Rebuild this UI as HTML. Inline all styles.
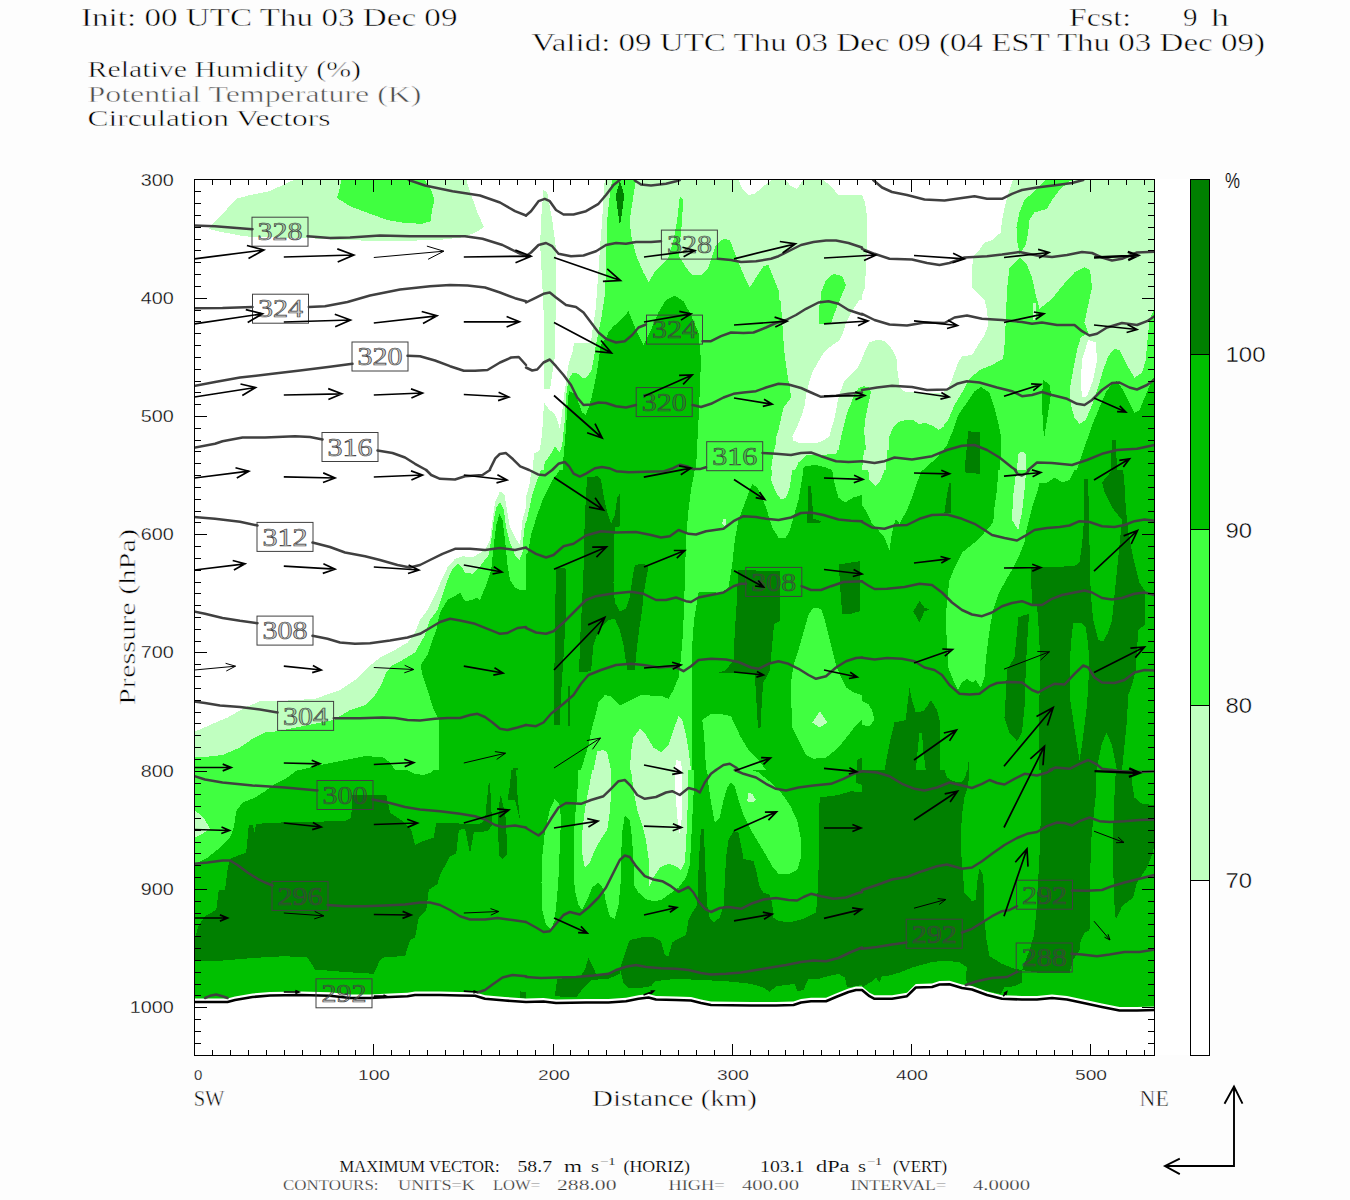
<!DOCTYPE html>
<html><head><meta charset="utf-8"><title>Cross section</title>
<style>html,body{margin:0;padding:0;background:#fdfdfd;}svg{display:block;}text{font-family:"Liberation Serif",serif;fill:#000;stroke:#fdfdfd;stroke-width:0.5px;paint-order:fill stroke;}.s{font-family:"Liberation Sans",sans-serif;stroke:none;}</style></head><body>
<svg width="1350" height="1200" viewBox="0 0 1350 1200">
<rect x="0" y="0" width="1350" height="1200" fill="#fdfdfd"/>
<rect x="194" y="179" width="1016" height="876" fill="#ffffff"/>
<defs><clipPath id="plot"><rect x="194" y="179.5" width="960.5" height="875.5"/></clipPath></defs>
<g clip-path="url(#plot)" shape-rendering="crispEdges">
<clipPath id="c0"><rect x="190" y="170" width="336" height="300"/></clipPath>
<g clip-path="url(#c0)">
<rect x="190" y="170" width="336" height="300" fill="#ffffff"/>
<polygon fill="#c0ffc0" points="295,179.5 285,183.8 270,191.2 250,195 236.2,198.8 225,211.2 215,221.2 208.8,228.8 217.5,231.2 240,235.5 252.5,237 307.5,238 330,239.5 370,240.8 410,240.8 442.5,239.5 465,237 477.5,231.2 483.8,227 477.5,212.5 471.2,195 466.2,179.5"/>
<polygon fill="#40ff40" points="341.2,179.5 340,187.5 337,198 350,206.2 370,213.8 387.5,220 405,223 422.5,223.8 430.5,221.2 432,210 434.5,199.5 431.2,190 426.2,182.5 425,179.5"/>
</g>
<clipPath id="c1"><rect x="190" y="470" width="336" height="300"/></clipPath>
<g clip-path="url(#c1)">
<rect x="190" y="470" width="336" height="300" fill="#ffffff"/>
<polygon fill="#c0ffc0" points="190,733.8 210,725 227.5,717.5 245,707.5 260,701.2 277.5,701.2 315,698.8 340,690 355,680 367.5,667.5 380,657.5 395,650 407.5,642.5 415,632.5 420,620 427.5,610 437.5,590 442.5,577.5 447.5,567.5 455,558.8 462.5,556.2 472.5,557.5 485,550 490,540 492.5,520 495,502.5 500,491.2 504.5,495 507.5,512.5 510,527.5 515,537.5 520,545 522.5,520 526,507.5 526,770 190,770"/>
<polygon fill="#40ff40" points="190,757.5 205,757 222.5,755 240,747.5 252.5,738.8 265,732.5 277.5,731.2 333.8,720 350,710 365,705 375,695 381.2,685 386.2,672.5 392.5,665 402.5,660 415,652.5 425,635 430,620 437.5,610 442.5,595 447.5,580 452.5,568.8 457.5,563.8 461.2,566.2 465,572.5 472.5,573.8 480,566.2 488.8,555 491.2,540 493.8,520 496.2,507.5 500,502.5 503.8,510 506.2,527.5 510,542.5 515,555 519.5,560 522.5,552.5 523.8,532.5 526,520 526,770 190,770"/>
<polygon fill="#00c000" points="300,770 320,765 345,760 365,756.2 382.5,757 390,762.5 395,770"/>
<polygon fill="#00c000" points="438.8,770 438.8,720 433.8,710 427.5,690 422.5,675 420.5,665 427.5,655 432.5,640 436.2,630 440,612.5 447.5,600 455,596.2 460,592.5 465,601.2 472.5,600 476.2,597.5 480,600 486.2,585 491.2,570 493.8,545 496.2,525 499.5,513.8 502.5,520 505,540 507.5,565 510,580 515,587.5 520,590 526,590 526,770"/>
<polygon fill="#008000" points="512.5,767.5 512.5,770 517.5,770 517.5,767.5"/>
</g>
<clipPath id="c2"><rect x="190" y="770" width="336" height="300"/></clipPath>
<g clip-path="url(#c2)">
<rect x="190" y="770" width="336" height="300" fill="#00c000"/>
<polygon fill="#40ff40" points="190,770 297.5,770 287.5,777.5 275,783.8 265,791.2 255,797.5 242.5,802.5 236.2,811.2 233.8,827.5 230,837.5 220,847.5 207.5,857.5 197.5,862.5 190,865"/>
<polygon fill="#40ff40" points="407.5,770 415,773.8 423.8,775 431.2,772.5 433.8,770"/>
<polygon fill="#c0ffc0" points="190,807.5 197.5,812.5 205,820 210,828.8 202.5,833.8 194.5,837.5 190,838.8"/>
<polygon fill="#008000" points="248.8,825 246.2,852.5 230,858.8 227.5,870 225,890 218.8,890 216.2,910 205,916.2 198.8,925 194.5,940 190,942.5 190,961.2 222.5,960.5 252.5,958 285,956.2 307.5,957.5 315,969.5 345,972 373.8,973.8 380,960 385,957 405,956.2 410,940 415,937.5 418.8,917.5 426.2,910 428.8,890 437.5,883.8 440,875 450,856.2 456.2,853.8 458.8,830 465,828.8 470,853.8 473.8,832.5 487.5,831.2 492.5,825 485,820 480,823.8 436.2,823.2 433.8,837.5 422.5,841.2 415,845 411.2,830 402.5,821.2 390,812.5 386.2,794.5 352.5,795 351.2,817.5 345,821.2 290,822 256.2,823.8 254.5,832.5 253,825"/>
<polygon fill="#008000" points="488.8,782.5 486.2,807.5 485,820 492.5,825 491.2,807.5 490,782.5"/>
<polygon fill="#008000" points="500,796.2 498,820 498.8,855 502.5,858.8 507,855 506.2,820 502.5,802.5 501.2,796.2"/>
<polygon fill="#008000" points="511.2,770 510,785 507.5,800 515,800 520,820 517.5,795 516.2,770"/>
<polygon fill="#008000" points="520,991.2 519.5,998 526,998.8 526,992.5"/>
</g>
<clipPath id="c3"><rect x="526" y="170" width="336" height="300"/></clipPath>
<g clip-path="url(#c3)">
<rect x="526" y="170" width="336" height="300" fill="#ffffff"/>
<polygon fill="#c0ffc0" points="543.5,190 541,220 540.2,245 542.2,282.5 544,320 544,388.8 550.2,388.8 552.8,370 554.8,357.5 555.5,320 556,282.5 555.5,245 552.2,220 547.2,192.5"/>
<polygon fill="#c0ffc0" points="604.8,179.5 603.5,195 602.2,220 600.2,245 598.5,270 596.8,295 595.5,310 594,320 592.2,332.5 591,343 574,343 572.8,351.2 569,362.5 567.2,372.5 566,382.5 564.8,390 563.5,400 561.5,417.5 559.8,428.8 556,416.2 552.8,412.5 548.5,408.8 544,402.5 542.2,432.5 539.8,450 534,453.8 532.8,470 862,470 862,179.5"/>
<polygon fill="#ffffff" points="738.5,179.5 742.2,188.8 748.5,195 754.8,193.8 763.5,186.2 772.2,179.5"/>
<polygon fill="#ffffff" points="784.8,179.5 791,186.2 797.2,188.8 803.5,179.5"/>
<polygon fill="#ffffff" points="822.2,179.5 829.8,185 838.5,195 851,195.5 862,194.5 862,179.5"/>
<polygon fill="#40ff40" points="612.2,179.5 609.8,195 607.2,220 606.5,245 606,270 604.8,295 601,320 599,330 597.2,338.8 595.2,348.8 594,357.5 591.5,370 588.5,375 584,378.8 576,372.5 572.8,372.5 569,378.8 567.2,387.5 566,397.5 564.8,420 563.5,432.5 562.2,445 559.8,452.5 554.8,446.2 551,453.8 544.8,462.5 543.5,470 771,470 773.5,452.5 778.5,432.5 783.5,410 789.8,395 787.2,377.5 783.5,357.5 781,320 778.5,290 773.5,277.5 768.5,265 763.5,266.2 756,277.5 749.8,287.5 746,280 738.5,262.5 729.8,240 723.5,238.8 716,245 708.5,267.5 701,275 692.2,275 686,267.5 679,256.2 680.5,237.5 682.2,220 683,200 679.8,196.2 677.2,220 673.5,240 668.5,257.5 656,270 648.5,282.5 643.5,272.5 636,255 631,235 629.8,220 633.5,195 636,179.5"/>
<polygon fill="#40ff40" points="833.5,273.8 826,280 821,292.5 819.8,310 818.5,322.5 824.8,323.8 833.5,315 839.8,300 846,285 842.2,276.2"/>
<polygon fill="#40ff40" points="862,387.5 856,393.8 849.8,407.5 844.8,425 840.5,442.5 836,453.8 821,455 806,455.5 798.5,462.5 794.8,470 862,470"/>
<polygon fill="#00c000" points="562.8,470 563.5,457.5 565.2,438.8 566.5,420 567.8,401.2 569,391.2 574.8,393.8 578.5,402.5 582.2,412.5 586,415 590.2,402.5 592.2,395 594.8,382.5 597.2,370 599,357.5 601,345 606,337.5 608.5,332.5 613.5,326.2 621,320 628.5,311.2 636,330 643.5,345 651,330 658.5,312.5 666,300 674.8,295.8 683.5,301.2 691,315 698.5,332.5 701,360 699.8,390 698.5,420 697.2,445 696,470"/>
<polygon fill="#00c000" points="802.2,470 804.8,466.2 816,465 826,467.5 832.2,470"/>
<polygon fill="#008000" points="620,180.8 615.8,195 618,212.5 620,225.8 622,212.5 624.2,195"/>
</g>
<clipPath id="c4"><rect x="526" y="470" width="336" height="300"/></clipPath>
<g clip-path="url(#c4)">
<rect x="526" y="470" width="336" height="300" fill="#00c000"/>
<polygon fill="#40ff40" points="526,470 559.8,470 551,482.5 543.5,497.5 537.2,515 531,535 528,552.5 526,555"/>
<polygon fill="#c0ffc0" points="526,470 541,470 537.2,480 532.2,495 528.5,512.5 526,522.5"/>
<polygon fill="#ffffff" points="526,470 531.5,470 529.8,482.5 526,497.5"/>
<polygon fill="#40ff40" points="694.8,470 691,490 688.5,510 686.5,532.5 685.5,557.5 684.8,582.5 684,607.5 683,632.5 681,657.5 678.5,677.5 673.5,690 668.5,698.8 662.2,696.2 641,695 631,700 619.8,705.5 611,696.2 604.8,695 598.5,702.5 594.8,717.5 591.5,730 588.5,745 584.8,757.5 581,770 692.2,770 692.2,720 691.5,670 692.2,645 694,620 698.5,592.5 711,592 721,593 728.5,587.5 732.2,565 734.8,540 738.5,520 746,500 752.2,483.8 757.2,487.5 762.2,497.5 766,507.5 772.2,527.5 778.5,537.5 786,537.5 789.8,530 793.5,517.5 798.5,500 801,485 803.5,470"/>
<polygon fill="#c0ffc0" points="772.2,470 771,480 776,492.5 781,499.5 786,497.5 789.8,487.5 792.2,470"/>
<polygon fill="#c0ffc0" points="723,518.8 722.2,523.8 724.8,526.2 726.5,522.5 725.5,518.8"/>
<polygon fill="#40ff40" points="832.2,470 834.8,485 838.5,497.5 844.8,502.5 853.5,497.5 862,495 862,470"/>
<polygon fill="#40ff40" points="813.5,607.5 808.5,615 803.5,632.5 798.5,650 793.5,665 791,682.5 791.5,707.5 792.2,727.5 798.5,740 806,755 813.5,758.8 826,757.5 838.5,747.5 848.5,735 856,725 862,720 862,695 853.5,692.5 846,687.5 841,677.5 836,665 832.2,650 828.5,635 824.8,620 821,608.8"/>
<polygon fill="#c0ffc0" points="819.8,711.2 812.2,722.5 819.8,727.5 827.2,722.5"/>
<polygon fill="#40ff40" points="702.2,720 711,713.8 723.5,714.5 731,716.2 734.8,725 741,737.5 748.5,750 758.5,760 766,770 706,770 704.8,745 703.5,730"/>
<polygon fill="#c0ffc0" points="633.5,737.5 639.8,728.8 646,735 653.5,747.5 661,752.5 668.5,745 673.5,730 678.5,716.2 682.2,720 686,735 688.5,750 691,770 629.8,770 631,752.5"/>
<polygon fill="#ffffff" points="676,760 675,770 682,770 681,761.2"/>
<polygon fill="#c0ffc0" points="597.2,751.2 593.5,770 611,770 607.2,752.5 603.5,750"/>
<polygon fill="#008000" points="587.2,477.5 586,495 584.8,520 584,545 583.5,570 582.2,600 580.5,632.5 579,672.5 591,671.2 593.5,645 598.5,630 608.5,620 614.8,618.8 619.8,630 623.5,645 627.2,670 634.8,670 637.2,645 639.8,625 642.2,610 643.5,595 646,580 648.5,566.2 643.5,563.8 634.8,565 632.2,580 629.8,597.5 626,608.8 619.8,611.2 614.8,602.5 613.5,582.5 614,545 614.8,527.5 619.8,526.2 619.8,493.8 617.2,497.5 614.8,515 611,523.8 607.2,512.5 603.5,495 601,480 597.2,476.2"/>
<polygon fill="#008000" points="556,567.5 555.5,595 554.8,645 554,695 554,725 559.8,725 561,695 563.5,657.5 565.5,620 566,570 563.5,567.5"/>
<polygon fill="#008000" points="568,686.2 568.5,726.2 570,726.2 570,686.2"/>
<polygon fill="#008000" points="738,570 737.2,595 734.8,632.5 733.5,660 726,670 718.5,672.5 733.5,673 754.8,673.8 756,695 758,727.5 760.5,727.5 762.2,695 763.5,682.5 769.8,670 772.2,645 774,623.8 779.8,621.2 779.8,571.2"/>
<polygon fill="#008000" points="808.5,486.2 807.2,522.5 819.8,523 821,521.2 813.5,518.8 811,486.2"/>
<polygon fill="#008000" points="839,564.5 839.8,582.5 842.2,613.8 851,613.8 859.8,611.2 859.8,561.2 851,562.5"/>
<polygon fill="#008000" points="857.2,760 857.2,770 862,770 862,757.5"/>
</g>
<clipPath id="c5"><rect x="526" y="770" width="336" height="300"/></clipPath>
<g clip-path="url(#c5)">
<rect x="526" y="770" width="336" height="300" fill="#00c000"/>
<polygon fill="#40ff40" points="554.8,798.8 549.8,810 544.8,832.5 542.2,857.5 541.5,882.5 542.2,910 546,925 551,930 554.8,920 557.2,895 559,870 559.8,845 561,820 559.8,805"/>
<polygon fill="#40ff40" points="578.5,770 577.2,795 574.8,820 573.5,845 573.5,870 574.8,890 578.5,905 582.2,910 587.2,900 592.2,887.5 598.5,882.5 603.5,888.8 606,902.5 609.8,916.2 614.8,918.8 618.5,905 620.5,885 621,857.5 622.2,832.5 624.8,815 629.8,820 632.2,840 633.5,865 634,885 638.5,892.5 644.8,898.8 653.5,901.2 661,900 669.8,893.8 678.5,887.5 686,877.5 689.8,865 691,845 692.2,820 693.5,795 694,770"/>
<polygon fill="#40ff40" points="707.2,770 708.5,785 711,802.5 714.8,822.5 719.8,817.5 723.5,800 727.2,787.5 731,782.5 734.8,786.2 738.5,800 743.5,815 751,830 758.5,842.5 766,855 772.2,866.2 778.5,873.8 788.5,874.5 797.2,870 801,857.5 801,840 797.2,820 789.8,805 781,792.5 771,782.5 758.5,772.5 751,770"/>
<polygon fill="#c0ffc0" points="748.5,792.5 747.2,801.2 752.2,802.5 756,800 752.2,793.8"/>
<polygon fill="#c0ffc0" points="592.2,770 588.5,790 584.8,810 582.2,832.5 581.5,850 584.8,867.5 589.8,862.5 594.8,850 601,838.8 607.2,830 609.8,812.5 611,795 611,770"/>
<polygon fill="#c0ffc0" points="631,770 633.5,790 637.2,810 642.2,825 646,840 648.5,857.5 649,887.5 653.5,877.5 659.8,867.5 668.5,863.8 676,866.2 681,870 684.8,862.5 686,845 687.2,820 688,795 688.5,770"/>
<polygon fill="#ffffff" points="675,770 675.5,795 677.2,815 679,836.2 681.5,820 682.5,795 682,770"/>
<polygon fill="#008000" points="701,828.8 699.8,845 698.5,870 698,890 697.2,905 692.2,912.5 688.5,920 686,935 676,940 672.2,942.5 668.5,956.2 664.8,955 661,941.2 653.5,937.5 643.5,937 629.8,940 626,950 622.2,962.5 619.8,968.8 623.5,982.5 628.5,988 643.5,987.5 651,986.2 654.8,981.2 676,978.8 701,980 726,981.2 751,983.8 763.5,987.5 769.8,992 776,986.2 786,985 794.8,983.8 797.2,991.2 803.5,990 808.5,978.8 818.5,978.8 828.5,976.2 838.5,973.8 844.8,977.5 847.2,987.5 862,985 862,792.5 851,791.2 838.5,795 819.8,797.5 818.5,820 818.5,870 817.2,900 816,912.5 803.5,918.8 791,922 778.5,921.2 773.5,917.5 772.2,903.8 769.8,895 763.5,892.5 759.8,887.5 756,870 753.5,861.2 743.5,858.8 741,845 738.5,832.5 733.5,831.2 728.5,840 726,857.5 724.8,882.5 723.5,906.2 719.8,917.5 713.5,922.5 709.8,918.8 707.2,905 706,882.5 704.8,857.5 704,828.8"/>
<polygon fill="#008000" points="856,770 856,782.5 862,785 862,770"/>
<polygon fill="#008000" points="588.5,957.5 584.8,970 579.8,977.5 557.2,978.8 556,987.5 554.8,996.2 576,997.5 583.5,987.5 591,980 608.5,978.8 619.8,973.8 619.8,968.8 608.5,973.8 596,973.8 592.2,965"/>
</g>
<clipPath id="c6"><rect x="862" y="170" width="336" height="300"/></clipPath>
<g clip-path="url(#c6)">
<rect x="862" y="170" width="336" height="300" fill="#ffffff"/>
<polygon fill="#c0ffc0" points="862,195 865,202.5 867.5,220 867,245 865.8,270 865,287.5 862,295"/>
<polygon fill="#c0ffc0" points="1013.2,179.5 1009.5,190 1005.8,202.5 1002,220 1000.8,232.5 992,240 984.5,242.5 979.5,250 973.2,256.2 972,270 972.5,287.5 984.5,300 987,310 988.2,325 984.5,335 978.2,345 972,355 962,356.2 958.2,362.5 954.5,372.5 950.8,382.5 947,390 937,391.8 912,390.5 902,386.2 899,377.5 897,365 893.2,350 887,342.5 878.2,340 869.5,342.5 862,355 862,470 1157,470 1157,179.5"/>
<polygon fill="#40ff40" points="1045.8,179.5 1034.5,191.2 1024.5,200 1019.5,212.5 1016.5,227.5 1017.5,242.5 1019.5,253.8 1025.8,245 1028.2,232.5 1029.5,220 1034.5,212.5 1047,208.8 1052,200 1059.5,190 1069.5,181.2 1077,179.5"/>
<polygon fill="#40ff40" points="1019.5,257.5 1009.5,267.5 1007,290 1005.8,320 1004.5,345 1003.2,358.8 992,365 979.5,370 969.5,378.8 962,392.5 954.5,405 948.2,420 939.5,430 933.2,425 924.5,422.5 912,421.2 899.5,422.5 892,430 888.2,440 887,455 885.8,470 1157,470 1157,310 1153.2,311.2 1149.5,320 1147,345 1145.8,360 1142,372.5 1134.5,377.5 1127,365 1119.5,350 1114.5,348.8 1108.2,356.2 1103.2,370 1102,355 1098.2,340 1093.2,333.8 1088.2,332.5 1084.5,322.5 1088.2,305 1092,287.5 1090,270 1084.5,267 1074.5,272.5 1062,286.2 1052,298.8 1039.5,308.8 1035.8,295 1032,277.5 1027,265"/>
<polygon fill="#c0ffc0" points="1088.2,332.5 1080.8,337.5 1077,350 1073.2,370 1069.5,390 1070.8,405 1074.5,417.5 1079.5,423.8 1085.8,420 1092,405 1098.2,387.5 1103.2,370 1102,355 1098.2,340 1093.2,333.8"/>
<polygon fill="#ffffff" points="1088.2,340 1082,360 1080.8,382.5 1082,397.5 1087,396.2 1093.2,380 1097,360 1095.8,342.5"/>
<polygon fill="#c0ffc0" points="1018.2,453.8 1017,470 1025.8,470 1025.8,453.8 1022,451.2"/>
<polygon fill="#c0ffc0" points="1033.2,302.5 1032.5,320 1035.8,320 1035.8,302.5"/>
<polygon fill="#40ff40" points="862,390 867,392.5 869.5,395 865.8,420 864.5,445 862,470"/>
<polygon fill="#00c000" points="923.2,470 937,457.5 947,445 953.2,430 958.2,415 967,402.5 974.5,391.2 980.8,387 989.5,392.5 994.5,407.5 998.2,422.5 1000.8,435 1000.8,455 999.5,470"/>
<polygon fill="#00c000" points="1043.2,380 1042,395 1042.5,415 1044,438.8 1047,420 1050.8,395 1050,385"/>
<polygon fill="#00c000" points="1077,470 1082,455 1087,440 1093.2,422.5 1099.5,407.5 1105.8,392.5 1112,383.8 1117,381.2 1123.2,390 1128.2,400 1134.5,412.5 1139.5,410 1145.8,395 1152,380 1157,372.5 1157,470"/>
<polygon fill="#008000" points="968.2,431.2 967,445 964.5,470 979.5,470 980,432.5"/>
<polygon fill="#008000" points="1112,440 1110.8,470 1117,470 1115.8,440"/>
</g>
<clipPath id="c7"><rect x="862" y="470" width="336" height="300"/></clipPath>
<g clip-path="url(#c7)">
<rect x="862" y="470" width="336" height="300" fill="#00c000"/>
<polygon fill="#40ff40" points="862,470 922,470 917,482.5 912,497.5 907,510 899.5,523.8 895.8,518.8 892,532.5 889.5,550 884.5,537.5 878.2,530 872,523.8 867,512.5 862,505"/>
<polygon fill="#c0ffc0" points="868.2,470 869.5,480 875.8,486.2 880.8,480 884.5,470"/>
<polygon fill="#40ff40" points="998.2,470 997,490 994.5,507.5 993.2,522.5 984.5,532.5 974.5,542.5 962,552.5 955.8,565 949.5,580 947,600 945.8,620 947,645 948.2,667.5 953.2,680 958.2,690 962,682.5 967,678.8 972,682.5 975.8,680 980.8,687.5 984.5,677.5 985.8,660 988.2,640 990.8,622.5 993.2,610 998.2,595 1005.8,580 1012,570 1019.5,555 1024.5,542.5 1027,527.5 1032,507.5 1037,492.5 1039.5,482.5 1047,482.5 1054.5,477.5 1062,482.5 1069.5,480 1074.5,470"/>
<polygon fill="#c0ffc0" points="1015.8,475 1013.2,495 1012,520 1018.2,530 1022,512.5 1024.5,490 1025.8,475 1022,473.8"/>
<polygon fill="#40ff40" points="862,701.2 868.2,703.8 872,710 874.5,720 869.5,726.2 862,725"/>
<polygon fill="#008000" points="1030.8,567.5 1074.5,566.2 1079.5,562.5 1082,545 1084,520 1084.5,478.8 1088.2,478.8 1102,482.5 1108.2,475 1112,470 1123.2,470 1124.5,485 1125.8,507.5 1128.2,532.5 1133.2,557.5 1139.5,582.5 1144.5,590 1144.5,625 1138.2,630 1137,650 1135.8,670 1132,685 1128.2,695 1127,720 1124.5,745 1122,770 1039,770 1039.5,695 1039.5,645 1038.2,620 1037,606.2 1032,605"/>
<polygon fill="#00c000" points="1088.2,478.8 1089,520 1089.5,545 1090,570 1090.8,595 1093.2,620 1098.2,640 1103.2,641.2 1108.2,632.5 1112,620 1114.5,595 1117,570 1119.5,545 1122,520 1112,507.5 1104.5,492.5 1102,482.5"/>
<polygon fill="#00c000" points="1073.2,622.5 1070.8,645 1069.5,670 1069.5,695 1073.2,720 1077,745 1079.5,760 1082,745 1084.5,725 1087,705 1088.2,685 1089.5,665 1088.2,645 1085.8,627.5 1080.8,622.5"/>
<polygon fill="#00c000" points="1106.5,732.5 1101.5,745 1096.5,770 1117,770 1112,745"/>
<polygon fill="#008000" points="1018.2,617.5 1017,632.5 1014.5,657.5 1007,670 1005.8,695 1004.5,717.5 1009.5,732.5 1017,741.2 1022,732.5 1024.5,707.5 1025.8,670 1027,645 1028.2,625 1029.5,613.8 1024.5,615"/>
<polygon fill="#008000" points="949.5,482.5 947,495 944.5,512.5 950.8,512.5 950.8,482.5"/>
<polygon fill="#008000" points="919.5,601.2 913.2,611.2 919.5,622.5 924.5,611.2 929.5,610 924.5,607.5"/>
<polygon fill="#008000" points="964.5,470 965.8,472.5 979.5,473.8 979.5,470"/>
<polygon fill="#008000" points="909.5,687.5 907,707.5 905.8,720 894.5,722.5 892,732.5 888.2,750 884.5,770 915.8,770 918.2,745 919.5,732.5 922,732.5 923.2,750 925.8,770 939.5,770 940,745 939.5,720 937,710 930.8,700 928.2,705 923.2,711.2 915.8,712.5 912,700"/>
<polygon fill="#008000" points="968.2,757.5 967.8,770 969,770"/>
</g>
<clipPath id="c8"><rect x="862" y="770" width="336" height="300"/></clipPath>
<g clip-path="url(#c8)">
<rect x="862" y="770" width="336" height="300" fill="#00c000"/>
<polygon fill="#008000" points="862,770 944.5,770 947,777.5 953.2,781.2 962,782.5 965.8,775 967,770 969.5,770 968.2,785 964.5,797.5 962,815 960.8,835 961.5,857.5 963.2,877.5 964.5,892.5 972,901.2 975.8,900 977,882.5 979.5,868.8 983.2,875 984,895 984.5,920 986.5,940 989.5,956.2 1002,963.8 1014.5,968.8 1022,970 1022,982.5 1014.5,986.2 1004.5,987.5 1000.8,993.8 982,990 967,985 965.8,975 967,967.5 959.5,962.5 947,960.5 932,962 912,967.5 899.5,972.5 887,976.2 882,975.5 879.5,982.5 875.8,977.5 872,981.2 862,987.5"/>
<polygon fill="#008000" points="1040.8,770 1041,807.5 1040,845 1038.2,880 1036.5,910 1034,935 1029.5,950 1022,970 1037,972.5 1069.5,973 1073.2,960 1079.5,950 1080.8,940 1084.5,932.5 1089.5,930 1090,895 1090.8,845 1093.2,820 1095.8,795 1095.8,770"/>
<polygon fill="#008000" points="1115.8,770 1114.5,795 1113.2,832.5 1113.2,870 1114.5,905 1115.8,920 1122,906.2 1133.2,897.5 1137,882.5 1147,867.5 1152,855 1154.5,845 1154.5,805 1142,803.8 1134.5,797.5 1132,782.5 1130.8,770"/>
</g>
<clipPath id="c9"><rect x="776" y="300" width="168" height="150"/></clipPath>
<g clip-path="url(#c9)">
<rect x="776" y="300" width="168" height="150" fill="#c0ffc0"/>
<polygon fill="#ffffff" points="859.1,300 856,305 851,312.5 846,322.5 843.5,331.2 839.8,340 831,346.2 824.8,351.2 818.5,361.2 812.9,371.2 809.8,380 807.9,387.5 806,395 804.8,405 802.2,413.8 797.9,425 792.2,436.2 793.5,440.6 799.8,443.1 818.5,442.5 826,438.8 829.8,435.6 831.6,427.5 834.8,417.5 837.2,403.8 839.8,392.5 842.2,387.5 844.1,381.2 851,375 857.2,368.8 861,361.2 864.8,351.2 869.1,342.5 876,340 883.5,340.6 889.1,345 894.1,352.5 896.6,358.8 897.2,368.8 898.5,377.5 899.1,386.2 902.2,390 906,392.2 944,393.1 944,300"/>
<polygon fill="#40ff40" points="776,300 780.4,300 781.6,312.5 782.9,331.2 784.1,350 786,365 787.9,377.5 789.8,387.5 791,397.5 783.5,407.5 781,418.8 778.5,430 776,437.5"/>
<polygon fill="#40ff40" points="819.8,300 819.1,312.5 818.5,323.8 823.5,324.4 831,323.1 834.8,312.5 837.2,306.2 839.8,300"/>
<polygon fill="#40ff40" points="863.5,386.2 858.5,388.1 854.1,395 851,403.8 847.2,412.5 844.1,425 841,437.5 838.5,450 866,450 864.1,431.2 865.4,418.8 867.9,406.2 869.8,397.5 871,391.9 869.1,387.5"/>
<polygon fill="#40ff40" points="888.5,450 889.1,437.5 892.9,427.5 897.2,423.1 902.2,420.6 913.5,420 918.5,423.8 926,423.1 933.5,426.2 938.5,430 944,426.2 944,450"/>
</g>
</g>
<g clip-path="url(#plot)">
<polygon fill="#ffffff" points="190,998.5 227.5,998.5 235,996.5 252.5,993.5 270,992 300,991.5 330,992.2 350,994.5 370,994.5 390,993.5 407.5,992.8 415,991.5 440,991.5 460,992 475,992.2 485,995.2 505,997 526,998.5 543.5,998 556,999.5 586,999 608.5,999 626,997.8 638.5,995.2 648.5,994 656,996 676,996.5 691,997 701,999.5 711,1001.5 751,1002 776,1002 793.5,1001.5 801,999 811,997.8 826,997.8 836,993.5 848.5,988.5 856,986.5 862,986.5 869.5,992.8 874.5,995.2 892,995.2 907,992.8 915.8,984 932,983.5 939.5,981 949.5,980.8 962,984.5 972,986 987,991.5 1002,995.2 1022,996 1037,996 1052,994.5 1067,996 1087,1000.2 1102,1003.5 1119.5,1007 1137,1007 1158,1006.5 1154.5,1055 194,1055"/>
<polyline fill="none" stroke="#000" stroke-width="2.6" stroke-linejoin="round" points="190,1002 227.5,1002 235,1000 252.5,997 270,995.5 300,995 330,995.8 350,998 370,998 390,997 407.5,996.2 415,995 440,995 460,995.5 475,995.8 485,998.8 505,1000.5 526,1002 543.5,1001.5 556,1003 586,1002.5 608.5,1002.5 626,1001.2 638.5,998.8 648.5,997.5 656,999.5 676,1000 691,1000.5 701,1003 711,1005 751,1005.5 776,1005.5 793.5,1005 801,1002.5 811,1001.2 826,1001.2 836,997 848.5,992 856,990 862,990 869.5,996.2 874.5,998.8 892,998.8 907,996.2 915.8,987.5 932,987 939.5,984.5 949.5,984.2 962,988 972,989.5 987,995 1002,998.8 1022,999.5 1037,999.5 1052,998 1067,999.5 1087,1003.8 1102,1007 1119.5,1010.5 1137,1010.5 1158,1010"/>
</g>
<g clip-path="url(#plot)" fill="none" stroke="#404040" stroke-width="2.5" stroke-linejoin="round" stroke-linecap="round">
<polyline points="192.5,225.5 215,226.2 252.5,229.2"/>
<polyline points="307.5,236.2 330,238 350,237.5 380,235.5 410,236.2 440,236.2 465,236.2 482.5,238.8 502.5,245 517.5,252.5 526,256.2"/>
<polyline points="408.8,180 425,185.5 452.5,191.2 480,195.5 500,202.5 515,211.2 526,215.5"/>
<polyline points="192.5,308.2 222.5,308 252.5,307"/>
<polyline points="308.8,307 325,306.2 347.5,302 370,295.5 400,289.5 430,286.2 450,285 467.5,285.5 485,287.5 500,292.5 515,298.2 526,301.2"/>
<polyline points="192.5,386.2 215,382 240,377.5 272.5,373.8 300,370.5 330,366.8 352.5,363.8"/>
<polyline points="407.5,355.8 420,356.2 435,360.5 450,366.2 463.8,370.8 475,370.8 487.5,370 500,362.5 511.2,357.5 518.8,357 526,365"/>
<polyline points="192.5,448 215,443.8 222.5,441.2 242.5,437.5 265,437.5 295,436.2 310,437 322.5,439.5"/>
<polyline points="377.5,450.5 392.5,453 405,457.5 415,463.8 426.2,470"/>
<polyline points="873.2,180 882,187.5 892,192 907,195 924.5,199.5 944.5,200.5 962,198 974.5,196.2 987,198.8 1002,198.8 1012,193.8 1022,190 1037,187.5 1057,185 1072,183 1083.2,180"/>
<polyline points="862,248.8 874.5,253.8 889.5,258.8 912,259.5 927,263 939.5,265 949.5,263 964.5,257.5 987,256.2 1002,254.5 1019.5,252 1037,255.5 1052,257 1067,255 1082,252 1092,253 1102,257.5 1112,260.5 1122,258.8 1137,252.5 1154.5,251.8"/>
<polyline points="862,313.8 874.5,320 889.5,324.5 907,325.5 924.5,322.5 944.5,323 954.5,317.5 967,315.5 982,318.8 1002,320 1022,322 1032,323.8 1042,322.5 1057,325 1074.5,325 1082,331.2 1089.5,335.5 1097,333.8 1107,327.5 1122,323 1137,325 1147,321.2 1154.5,316.2"/>
<polyline points="862,390 877,387.5 892,385.8 912,387 927,390 947,389.5 957,383.8 967,381.2 979.5,382.5 997,387.5 1012,391.2 1022,396.2 1032,395 1042,392 1052,395 1067,398.8 1077,403.8 1084.5,405 1092,400 1102,390 1112,383 1119.5,382.5 1129.5,387.5 1137,389.5 1147,385 1154.5,379.5"/>
<polyline points="862,461.2 874.5,463 884.5,461.2 894.5,457.5 912,459.5 932,456.2 947,450 962,445.8 974.5,445 987,450 999.5,457.5 1012,467.5 1015.8,470"/>
<polyline points="1028.2,470 1037,462.5 1052,463 1072,465 1087,460 1102,453.8 1117,450 1137,448.8 1154.5,445"/>
<polyline points="426.2,470 431.2,475 440,478.8 455,479.5 465,476.2 482.5,475 490,470"/>
<polyline points="192.5,516.8 215,518.8 240,521.8 257.5,525.5"/>
<polyline points="312.5,542.5 330,547 345,552.5 365,556.2 380,560 397.5,565 410,567.5 420,565 430,560 442.5,553.8 455,548.8 470,548.8 485,550 500,548 515,550 526,547.5"/>
<polyline points="192.5,611.2 205,613.8 222.5,618 240,620.8 257.5,623.2"/>
<polyline points="312.5,635.8 327.5,638.8 340,642.5 355,643.8 370,643.2 390,640.5 407.5,637.5 420,633.8 430,628 440,622 450,618.8 460,620.5 475,623.8 487.5,628.8 500,633.8 507.5,633 517.5,628 526,627"/>
<polyline points="192.5,701.2 205,703 220,705.5 240,707 260,709.5 277.5,712.5"/>
<polyline points="333.8,718.2 360,718.2 382.5,717.5 395,718 407.5,720 420,720.5 435,718.8 447.5,718 460,718 470,715 477.5,713.8 485,717 492.5,722.5 500,728.8 507.5,730 517.5,727.5 526,725"/>
<polyline points="526,548 536,553.8 546,557.5 553.5,555 563.5,546.2 573.5,543.8 586,535.5 601,531.2 616,532.5 636,532 651,535 661,537.5 669.8,536.2 678.5,530 688.5,533.8 696,534.5 706,531.2 723.5,528.8 733.5,521.2 743.5,516.2 756,517 766,518.8 778.5,520 791,517.5 801,513 811,512.5 823.5,515 838.5,519.5 851,520.8 862,521.2"/>
<polyline points="526,628 536,632.5 546,633.8 553.5,631.2 563.5,622.5 576,610 586,600 596,596.2 611,593.8 631,591.8 643.5,593.8 656,600 666,600 676,597.5 686,601.2 691,602 698.5,597.5 711,595 723.5,592.5 733.5,586.2 741,583.8 746,583.8"/>
<polyline points="801.5,586.2 811,590 821,590 831,586.2 843.5,582 862,581.2"/>
<polyline points="526,725 536,726.2 543.5,722.5 551,713.8 563.5,703.8 573.5,695 581,683.8 588.5,675 601,670 616,665 631,663.8 643.5,665 658.5,667.5 673.5,666.2 683.5,671.2 691,666.2 698.5,660 711,658.8 726,659.5 738.5,662 751,667.5 758.5,668.8 768.5,663.8 778.5,661.2 788.5,663.8 798.5,668.8 808.5,675 816,678.8 826,676.2 836,667.5 846,661.2 856,658 862,657.5"/>
<polyline points="716,770 723.5,765 729.8,763.8 736,767.5 738.5,770"/>
<polyline points="1015,470 1017.5,474 1022,475.5 1027,473 1029,470"/>
<polyline points="862,521.8 872,527.5 884.5,528.8 894.5,525.5 907,525 919.5,518.8 932,515 947,514.5 962,518.8 974.5,523.8 984.5,530 992,535 1004.5,538 1017,540.5 1024.5,536.2 1034.5,530 1047,528 1059.5,527 1069.5,525.5 1079.5,521.2 1089.5,522 1102,526.2 1114.5,527 1124.5,525 1134.5,521.2 1144.5,519.5 1154.5,520.8"/>
<polyline points="862,581.5 868.2,585.5 874.5,589 887,588.8 904.5,587 919.5,583.8 932,585 942,592.5 952,602.5 962,610 972,614.5 982,616.2 992,612.5 1002,606.2 1012,603 1022,601.2 1032,605 1042,605 1052,598.8 1062,595 1074.5,592.5 1084.5,590.5 1092,592.5 1102,598 1112,599.5 1122,598 1134.5,593.8 1144.5,592.5 1154.5,595"/>
<polyline points="862,657.8 874.5,659.5 887,658 902,658.8 914.5,661.2 924.5,667.5 934.5,670 942,675 949.5,685 959.5,693.8 969.5,694.5 979.5,693.8 989.5,686.2 997,683 1009.5,682 1022,682.5 1032,690 1038.2,692.5 1047,687.5 1054.5,683.8 1064.5,684.5 1074.5,673.8 1083.2,665.5 1088.2,667.5 1094.5,677.5 1102,682.5 1114.5,683 1124.5,680 1134.5,672.5 1144.5,670 1154.5,670.5"/>
<polyline points="1049.5,770 1055.8,767.5 1069.5,768.8 1079.5,763.8 1088.2,760 1095.8,763.8 1102,768.8 1112,770"/>
<polyline points="192.5,775.5 205,779.5 222.5,782.5 252.5,785.5 285,787.5 317.5,790.5"/>
<polyline points="372.5,799.5 390,803 405,807 420,809.5 440,811.2 460,813.8 475,816.2 485,819.5 495,825 502.5,827 515,825.5 526,827.5"/>
<polyline points="192.5,863.8 207.5,862.5 222.5,860.5 230,860.5 237.5,865 247.5,872.5 257.5,878.8 265,882.5 272.5,885.5"/>
<polyline points="327.5,905 345,906.2 365,906.2 385,905.5 405,904.5 420,902.5 430,902.5 440,905 450,910 460,916.2 470,919.5 485,919.5 497.5,918 512.5,920 526,922"/>
<polyline points="477.5,992.5 485,990 492.5,984.5 502.5,977.5 512.5,975 526,976.2"/>
<polyline points="205,998 210,995.8 216.2,994.5 222.5,996.2 227.5,998"/>
<polyline points="526,828 533.5,832.5 538.5,835.5 543.5,831.2 551,818.8 558.5,807.5 566,803 581,803.8 591,800 603.5,796.2 611,788.8 618.5,781.2 624.8,780 631,786.2 637.2,795 644.8,798.8 656,797 666,792.5 672.2,791.2 679.8,795 688.5,788 696,790 699.8,792.5 704.8,782.5 711,773.8 716,770"/>
<polyline points="734.8,770 743.5,773.8 756,777.5 766,783.8 776,788.8 786,790.5 798.5,787.5 813.5,785.5 831,783.8 843.5,778.8 853.5,773.8 862,771.2"/>
<polyline points="526,922 536,927.5 543.5,932 549.8,931.2 557.2,922.5 563.5,915 569.8,912 579.8,914.5 588.5,907.5 598.5,897.5 606,887.5 613.5,872.5 619.8,860 624.8,855.5 629.8,857 636,866.2 644.8,876.2 653.5,879.5 662.2,881.2 671,886.2 678.5,891.8 688.5,887 693.5,892.5 698.5,901.2 704.8,908.8 711,912 719.8,908 728.5,907 741,908.8 751,903.8 763.5,899.5 776,898 788.5,900 797.2,900.5 803.5,897 811,893.8 821,896.2 833.5,898.8 846,897.5 856,893.8 862,892"/>
<polyline points="526,977 541,978 556,977.5 576,977 593.5,975.5 608.5,973.8 616,970 626,966.8 636,965 646,967 661,968.2 676,968.8 688.5,970 701,973 711,974.5 726,973.8 741,972.5 756,970 771,967.5 786,965 801,962 813.5,960.5 826,961.2 838.5,958 851,952 862,947.5"/>
<polyline points="862,771.2 877,772.5 889.5,776.2 902,783.8 914.5,788.8 924.5,790.5 937,787.5 949.5,782.5 962,785.5 972,788 982,783.8 989.5,780 997,783 1004.5,784.5 1014.5,778.8 1024.5,773.8 1037,775.5 1047,772.5 1052,770"/>
<polyline points="1112,770 1127,772 1142,772 1154.5,771.2"/>
<polyline points="862,890 877,885 892,879.5 907,877 922,871.2 937,866.2 947,864.5 962,868.8 972,867.5 982,861.2 992,853.8 1004.5,845 1017,838 1027,833.8 1037,832 1047,826.2 1057,822.5 1064.5,823 1072,825.5 1079.5,821.2 1089.5,817.5 1099.5,821.2 1109.5,822 1124.5,821.2 1139.5,820 1154.5,819.5"/>
<polyline points="862,948.8 877,947 892,944.5 906.5,942.5"/>
<polyline points="962,932.5 972,928.8 982,922.5 992,916.2 1002,911.2 1009.5,910 1017,906.2"/>
<polyline points="1072,890.5 1087,890.8 1102,890 1112,886.2 1124.5,882.5 1139.5,878.8 1154.5,875"/>
<polyline points="965.8,985 977,981.2 992,978 1007,977 1017,972"/>
<polyline points="1071.5,953.8 1082,954.5 1097,956.2 1109.5,954.5 1124.5,952 1139.5,952 1154.5,949.5"/>
<polyline points="526,215.5 531,211.2 538.5,201.2 544.8,198.8 549.8,201.2 556,210 563.5,214.5 573.5,214.5 586,211.2 598.5,203.8 606,195 613.5,185 619.8,180"/>
<polyline points="634.8,180.5 641,184.5 651,185.5 666,183.8 676,181.2 679.8,180"/>
<polyline points="526,256.2 531,252.5 538.5,245 546,243 552.2,246.2 558.5,253.8 571,256.2 583.5,255.5 596,251.2 606,245 616,243 626,243.8 636,242 651,242 661,241.2"/>
<polyline points="717.8,258.8 731,260 741,262 756,261.2 771,258.8 778.5,256.2 791,250 801,245 813.5,242 826,240.5 836,240.5 848.5,243 862,247.5"/>
<polyline points="526,302.5 533.5,298.8 543.5,293.8 549.8,292.5 556,297.5 566,305 576,307 583.5,312.5 591,322.5 598.5,332.5 606,338.8 616,342.5 624.8,341.2 632.2,335 638.5,327.5 646,324.5"/>
<polyline points="702.5,341.2 711,341.2 721,336.2 731,332.5 743.5,333 753.5,332.5 766,327.5 776,323 786,320 796,315 806,308.8 818.5,302.5 828.5,301.2 838.5,303.8 848.5,310 862,314.5"/>
<polyline points="526,367.5 532.2,370.5 537.2,369.5 543.5,362.5 549.8,359.5 556,366.2 563.5,375 571,385 577.2,397.5 583.5,405 591,404.5 598.5,402.5 606,403 616,406.2 626,407.5 636,405"/>
<polyline points="692.5,405 701,407 711,403.8 723.5,397.5 733.5,393.8 743.5,392.5 756,391.2 766,387.5 778.5,383.8 788.5,384.5 801,388 811,392.5 821,396.8 836,395.8 848.5,393.8 862,392.5"/>
<polyline points="762.5,453 776,453.8 791,455 801,453 811,452.5 821,456.2 836,461.2 848.5,462 862,461.2"/>
<polyline points="490,469.1 495.3,458.4 499.8,454 506,453.1 513.1,459.3 520.2,466.4 529.1,470 538,474.4 545.1,475.3 552.2,470 558.4,463.8 564.7,462 569.1,466.4 573.6,473.6 579.8,476.6 586,473.6 594.9,468.2 602,467 609.1,468.2 616.2,471.2 628.7,472.3 646.4,471.8 664.2,471.2 673.1,468.2 680.2,464.7 687.3,466.4 692.7,469.1 699.8,469.1 706,467.3"/>
</g>
<rect x="252" y="217.2" width="56" height="29" fill="none" stroke="#404040" stroke-width="1"/>
<text x="280" y="240.4" font-size="26" text-anchor="middle" textLength="45" lengthAdjust="spacingAndGlyphs" style="fill:#404040;fill-opacity:0.25;stroke:#404040;stroke-width:0.7px;paint-order:normal">328</text>
<rect x="252.5" y="294.2" width="56" height="29" fill="none" stroke="#404040" stroke-width="1"/>
<text x="280.5" y="317.4" font-size="26" text-anchor="middle" textLength="45" lengthAdjust="spacingAndGlyphs" style="fill:#404040;fill-opacity:0.25;stroke:#404040;stroke-width:0.7px;paint-order:normal">324</text>
<rect x="352" y="342" width="56" height="29" fill="none" stroke="#404040" stroke-width="1"/>
<text x="380" y="365.2" font-size="26" text-anchor="middle" textLength="45" lengthAdjust="spacingAndGlyphs" style="fill:#404040;fill-opacity:0.25;stroke:#404040;stroke-width:0.7px;paint-order:normal">320</text>
<rect x="322" y="432.5" width="56" height="29" fill="none" stroke="#404040" stroke-width="1"/>
<text x="350" y="455.7" font-size="26" text-anchor="middle" textLength="45" lengthAdjust="spacingAndGlyphs" style="fill:#404040;fill-opacity:0.25;stroke:#404040;stroke-width:0.7px;paint-order:normal">316</text>
<rect x="257" y="522.4" width="56" height="29" fill="none" stroke="#404040" stroke-width="1"/>
<text x="285" y="545.6" font-size="26" text-anchor="middle" textLength="45" lengthAdjust="spacingAndGlyphs" style="fill:#404040;fill-opacity:0.25;stroke:#404040;stroke-width:0.7px;paint-order:normal">312</text>
<rect x="257" y="616.1" width="56" height="29" fill="none" stroke="#404040" stroke-width="1"/>
<text x="285" y="639.3" font-size="26" text-anchor="middle" textLength="45" lengthAdjust="spacingAndGlyphs" style="fill:#404040;fill-opacity:0.25;stroke:#404040;stroke-width:0.7px;paint-order:normal">308</text>
<rect x="277.6" y="701.4" width="56" height="29" fill="none" stroke="#404040" stroke-width="1"/>
<text x="305.6" y="724.6" font-size="26" text-anchor="middle" textLength="45" lengthAdjust="spacingAndGlyphs" style="fill:#404040;fill-opacity:0.25;stroke:#404040;stroke-width:0.7px;paint-order:normal">304</text>
<rect x="745.8" y="567.4" width="56" height="29" fill="none" stroke="#404040" stroke-width="1"/>
<text x="773.8" y="590.6" font-size="26" text-anchor="middle" textLength="45" lengthAdjust="spacingAndGlyphs" style="fill:#404040;fill-opacity:0.25;stroke:#404040;stroke-width:0.7px;paint-order:normal">308</text>
<rect x="317" y="780.5" width="56" height="29" fill="none" stroke="#404040" stroke-width="1"/>
<text x="345" y="803.7" font-size="26" text-anchor="middle" textLength="45" lengthAdjust="spacingAndGlyphs" style="fill:#404040;fill-opacity:0.25;stroke:#404040;stroke-width:0.7px;paint-order:normal">300</text>
<rect x="272" y="881.4" width="56" height="29" fill="none" stroke="#404040" stroke-width="1"/>
<text x="300" y="904.6" font-size="26" text-anchor="middle" textLength="45" lengthAdjust="spacingAndGlyphs" style="fill:#404040;fill-opacity:0.25;stroke:#404040;stroke-width:0.7px;paint-order:normal">296</text>
<rect x="316" y="978.8" width="56" height="29" fill="none" stroke="#404040" stroke-width="1"/>
<text x="344" y="1002" font-size="26" text-anchor="middle" textLength="45" lengthAdjust="spacingAndGlyphs" style="fill:#404040;fill-opacity:0.25;stroke:#404040;stroke-width:0.7px;paint-order:normal">292</text>
<rect x="906.2" y="919.2" width="56" height="29" fill="none" stroke="#404040" stroke-width="1"/>
<text x="934.2" y="942.5" font-size="26" text-anchor="middle" textLength="45" lengthAdjust="spacingAndGlyphs" style="fill:#404040;fill-opacity:0.25;stroke:#404040;stroke-width:0.7px;paint-order:normal">292</text>
<rect x="1016.5" y="880.2" width="56" height="29" fill="none" stroke="#404040" stroke-width="1"/>
<text x="1044.5" y="903.5" font-size="26" text-anchor="middle" textLength="45" lengthAdjust="spacingAndGlyphs" style="fill:#404040;fill-opacity:0.25;stroke:#404040;stroke-width:0.7px;paint-order:normal">292</text>
<rect x="1016.2" y="943" width="56" height="29" fill="none" stroke="#404040" stroke-width="1"/>
<text x="1044.2" y="966.2" font-size="26" text-anchor="middle" textLength="45" lengthAdjust="spacingAndGlyphs" style="fill:#404040;fill-opacity:0.25;stroke:#404040;stroke-width:0.7px;paint-order:normal">288</text>
<rect x="661.4" y="230.1" width="56" height="29" fill="none" stroke="#404040" stroke-width="1"/>
<text x="689.4" y="253.3" font-size="26" text-anchor="middle" textLength="45" lengthAdjust="spacingAndGlyphs" style="fill:#404040;fill-opacity:0.25;stroke:#404040;stroke-width:0.7px;paint-order:normal">328</text>
<rect x="646.5" y="315.1" width="56" height="29" fill="none" stroke="#404040" stroke-width="1"/>
<text x="674.5" y="338.3" font-size="26" text-anchor="middle" textLength="45" lengthAdjust="spacingAndGlyphs" style="fill:#404040;fill-opacity:0.25;stroke:#404040;stroke-width:0.7px;paint-order:normal">324</text>
<rect x="636.2" y="387.6" width="56" height="29" fill="none" stroke="#404040" stroke-width="1"/>
<text x="664.2" y="410.8" font-size="26" text-anchor="middle" textLength="45" lengthAdjust="spacingAndGlyphs" style="fill:#404040;fill-opacity:0.25;stroke:#404040;stroke-width:0.7px;paint-order:normal">320</text>
<rect x="706.7" y="441.7" width="56" height="29" fill="none" stroke="#404040" stroke-width="1"/>
<text x="734.7" y="464.9" font-size="26" text-anchor="middle" textLength="45" lengthAdjust="spacingAndGlyphs" style="fill:#404040;fill-opacity:0.25;stroke:#404040;stroke-width:0.7px;paint-order:normal">316</text>
<g clip-path="url(#plot)" fill="none" stroke="#000" stroke-linecap="butt">
<path stroke-width="1.7" d="M194.5 258.8L263.8 250M246.9 245.5L263.8 250L248.5 258.5"/>
<path stroke-width="1.7" d="M283.8 257L353.8 255M337.3 248.9L353.8 255L337.7 262"/>
<path stroke-width="1.0" d="M373.8 257.5L443.8 251.2M426.9 246.1L443.8 251.2L428.1 259.3"/>
<path stroke-width="1.7" d="M463.8 257L531 256.2M515.3 250.1L531 256.2L515.5 262.7"/>
<path stroke-width="1.7" d="M554 257.5L620.5 280.5M607.2 268.9L620.5 280.5L602.9 281.4"/>
<path stroke-width="1.7" d="M644 257L694.8 250.5M682.4 247.3L694.8 250.5L683.6 256.8"/>
<path stroke-width="1.7" d="M734 258.8L795.5 243.8M779.8 241.5L795.5 243.8L782.6 253"/>
<path stroke-width="1.7" d="M824 258L875.8 255M863.5 250.8L875.8 255L864 260.5"/>
<path stroke-width="1.7" d="M914 255.5L964.5 258.8M953.1 253.3L964.5 258.8L952.5 262.7"/>
<path stroke-width="1.7" d="M1004 257.5L1049 252.5M1038.1 249.4L1049 252.5L1039 257.9"/>
<path stroke-width="2.3" d="M1094 257.5L1138.2 255.5M1127.8 251.8L1138.2 255.5L1128.2 260.1"/>
<path stroke-width="1.7" d="M194.5 323.8L262.5 313.8M245.8 309.7L262.5 313.8L247.7 322.4"/>
<path stroke-width="1.7" d="M283.8 322L350.5 320M334.8 314.2L350.5 320L335.2 326.7"/>
<path stroke-width="1.7" d="M373.8 323L437 315.8M421.7 311.5L437 315.8L423 323.4"/>
<path stroke-width="1.7" d="M463.8 321.8L519.5 321.8M506.6 316.5L519.5 321.8L506.6 327"/>
<path stroke-width="1.7" d="M554 322.5L611.5 353M601 340.5L611.5 353L595.3 351.3"/>
<path stroke-width="1.7" d="M644 322L691 313.8M679.3 311.3L691 313.8L680.9 320.1"/>
<path stroke-width="1.7" d="M734 325L787.2 321.2M774.6 317.1L787.2 321.2L775.3 327.1"/>
<path stroke-width="1.7" d="M824 323.8L868 321M857.5 317.5L868 321L858.1 325.8"/>
<path stroke-width="1.7" d="M914 320.8L957.5 325.5M947.9 320.3L957.5 325.5L947 328.5"/>
<path stroke-width="1.7" d="M1004 322.5L1044 313.8M1033.9 312L1044 313.8L1035.5 319.5"/>
<path stroke-width="1.7" d="M1094 325L1137 329.5M1127.5 324.4L1137 329.5L1126.6 332.5"/>
<path stroke-width="1.7" d="M194.5 397L255.5 387.5M240.5 384L255.5 387.5L242.3 395.4"/>
<path stroke-width="1.7" d="M283.8 395L341.8 393.8M328.2 388.6L341.8 393.8L328.4 399.5"/>
<path stroke-width="1.7" d="M373.8 395L422.5 393M411 388.9L422.5 393L411.4 398"/>
<path stroke-width="1.7" d="M463.8 394.5L508.8 397M498.6 392.2L508.8 397L498.1 400.6"/>
<path stroke-width="1.7" d="M554 395.5L602.2 438M595 423.6L602.2 438L587.1 432.7"/>
<path stroke-width="1.7" d="M644 396.2L692.2 375M679.1 375.4L692.2 375L683.1 384.4"/>
<path stroke-width="1.7" d="M734 398L772.2 404.2M764 399.2L772.2 404.2L762.8 406.4"/>
<path stroke-width="1.7" d="M824 396.2L864.8 395.6M855.2 391.9L864.8 395.6L855.4 399.6"/>
<path stroke-width="1.7" d="M914 392L949 397M941.4 392.6L949 397L940.4 399.1"/>
<path stroke-width="1.7" d="M1004 396.2L1040.8 384.5M1031.1 383.8L1040.8 384.5L1033.3 390.7"/>
<path stroke-width="1.7" d="M1094 398L1125.8 412M1119.7 405.8L1125.8 412L1117.1 411.7"/>
<path stroke-width="1.7" d="M194.5 478L248.8 471.2M235.5 467.7L248.8 471.2L236.8 477.9"/>
<path stroke-width="1.7" d="M283.8 476.8L335 478M323.2 472.9L335 478L323 482.5"/>
<path stroke-width="1.7" d="M373.8 477L422.5 475M411 470.9L422.5 475L411.4 480"/>
<path stroke-width="1.7" d="M463.8 475L507 480M497.4 474.8L507 480L496.5 482.9"/>
<path stroke-width="1.7" d="M554 477.5L603.5 510M595.1 497.8L603.5 510L589 507.1"/>
<path stroke-width="1.7" d="M643.8 477.1L690.9 468.2M679.1 465.9L690.9 468.2L680.8 474.7"/>
<path stroke-width="1.7" d="M734 479.5L764.8 499.5M759.5 492L764.8 499.5L755.7 497.7"/>
<path stroke-width="1.7" d="M824 478L863 479.3M854.1 475.3L863 479.3L853.8 482.7"/>
<path stroke-width="1.7" d="M914 473L949.5 473.8M941.3 470.3L949.5 473.8L941.2 476.9"/>
<path stroke-width="1.7" d="M1004 476.2L1040.8 472.5M1031.9 469.9L1040.8 472.5L1032.6 476.8"/>
<path stroke-width="1.7" d="M1094 480L1129.5 458.8M1119.3 460.4L1129.5 458.8L1123.3 467"/>
<path stroke-width="1.7" d="M194.5 570L245 563.8M232.7 560.5L245 563.8L233.9 569.9"/>
<path stroke-width="1.7" d="M283.8 566.2L335 569.2M323.4 563.8L335 569.2L322.8 573.4"/>
<path stroke-width="1.7" d="M373.8 567L418.8 570M408.6 565.1L418.8 570L408 573.5"/>
<path stroke-width="1.7" d="M463.8 565L502 572M493.8 566.8L502 572L492.5 574"/>
<path stroke-width="1.7" d="M554 569.2L606.5 547M592.2 547.2L606.5 547L596.4 557.1"/>
<path stroke-width="1.7" d="M644 567L684.8 550.5M673.8 550.5L684.8 550.5L676.8 558.1"/>
<path stroke-width="1.7" d="M734 570.8L763.5 587M758.2 580.5L763.5 587L755.1 586"/>
<path stroke-width="1.7" d="M824 569.5L862 574M853.6 569.4L862 574L852.8 576.5"/>
<path stroke-width="1.7" d="M914 563L949 558.8M940.5 556.5L949 558.8L941.3 563"/>
<path stroke-width="1.7" d="M1004 568L1040.8 567.5M1032.2 564.2L1040.8 567.5L1032.3 571.1"/>
<path stroke-width="1.7" d="M1094 571.2L1137.5 530.5M1123.6 535.9L1137.5 530.5L1131.2 544"/>
<path stroke-width="1.0" d="M194.5 670L235.5 666.2M225.6 663.3L235.5 666.2L226.3 671"/>
<path stroke-width="1.7" d="M283.8 666.2L321.2 670M312.9 665.6L321.2 670L312.2 672.6"/>
<path stroke-width="1.0" d="M373.8 667.5L413.8 669.5M404.7 665.3L413.8 669.5L404.3 672.8"/>
<path stroke-width="1.7" d="M463.8 666.2L503 673M494.5 667.8L503 673L493.3 675.1"/>
<path stroke-width="1.7" d="M554 670L604.8 617.5M588.1 624.9L604.8 617.5L597.9 634.4"/>
<path stroke-width="1.7" d="M644 668L681 665M672.1 662.2L681 665L672.7 669.2"/>
<path stroke-width="1.7" d="M734 672L763.5 675M756.9 671.5L763.5 675L756.4 677.1"/>
<path stroke-width="1.7" d="M824 670L857.2 677M850.2 672.3L857.2 677L848.9 678.5"/>
<path stroke-width="1.7" d="M914 663L952.5 649.5M942.3 649L952.5 649.5L944.8 656.2"/>
<path stroke-width="1.0" d="M1004 669.2L1049.5 651.8M1037.3 651.5L1049.5 651.8L1040.6 660.1"/>
<path stroke-width="1.7" d="M1094 672.5L1144.5 647M1130.4 648.2L1144.5 647L1135.2 657.6"/>
<path stroke-width="1.7" d="M194.5 767.5L231.2 767.5M222.7 764.1L231.2 767.5L222.7 770.9"/>
<path stroke-width="1.7" d="M283.8 763L320 763.8M311.7 760.2L320 763.8L311.5 767"/>
<path stroke-width="1.7" d="M373.8 764.5L413.8 762.5M404.3 759.2L413.8 762.5L404.7 766.7"/>
<path stroke-width="1.0" d="M463.8 763L505.5 753.2M494.9 751.6L505.5 753.2L496.7 759.4"/>
<path stroke-width="1.0" d="M554 768L600.5 738M586.9 740.6L600.5 738L592.5 749.3"/>
<path stroke-width="1.7" d="M644 765L681.7 772.7M673.7 767.4L681.7 772.7L672.2 774.4"/>
<path stroke-width="1.7" d="M735 770.7L770.5 758M761.1 757.6L770.5 758L763.5 764.3"/>
<path stroke-width="1.7" d="M824 768.3L856.7 771.7M849.4 767.8L856.7 771.7L848.8 774"/>
<path stroke-width="1.7" d="M914 760L956.5 730M943.8 733L956.5 730L949.5 740.9"/>
<path stroke-width="1.7" d="M1004 766.2L1053.2 707.5M1036.5 716.4L1053.2 707.5L1047.4 725.6"/>
<path stroke-width="2.3" d="M1094.5 771.2L1139.5 773M1129.2 768.4L1139.5 773L1128.9 776.8"/>
<path stroke-width="1.7" d="M194.5 829.5L229.5 830.5M221.5 827L229.5 830.5L221.3 833.5"/>
<path stroke-width="1.7" d="M283.8 823L321.2 827M312.9 822.6L321.2 827L312.2 829.6"/>
<path stroke-width="1.7" d="M373.8 824.5L417.5 823M407.2 819.3L417.5 823L407.5 827.4"/>
<path stroke-width="1.7" d="M463.8 823L508.8 810M497.1 808.8L508.8 810L499.5 817.2"/>
<path stroke-width="1.7" d="M554 828L598 821.2M587.2 818.7L598 821.2L588.4 826.9"/>
<path stroke-width="1.7" d="M644 826.2L681.5 827.5M672.9 823.7L681.5 827.5L672.7 830.7"/>
<path stroke-width="1.7" d="M734 830.8L776.5 811.8M764.9 812.2L776.5 811.8L768.4 820.1"/>
<path stroke-width="1.7" d="M824 828L861 828M852.4 824.5L861 828L852.4 831.5"/>
<path stroke-width="1.7" d="M914 820L957.5 791.2M944.7 793.8L957.5 791.2L950.1 802"/>
<path stroke-width="1.7" d="M1004 827.5L1044.5 746.2M1030.3 758.8L1044.5 746.2L1043 765.2"/>
<path stroke-width="1.0" d="M1094 831.2L1124 842.5M1118.1 837.1L1124 842.5L1116 842.7"/>
<path stroke-width="1.7" d="M194.5 918L227.5 918M219.9 914.9L227.5 918L219.9 921.1"/>
<path stroke-width="1.0" d="M283.8 913L323.8 915.8M314.7 911.4L323.8 915.8L314.2 918.9"/>
<path stroke-width="1.7" d="M373.8 914.5L411.2 915M402.6 911.4L411.2 915L402.5 918.4"/>
<path stroke-width="1.0" d="M463.8 913L498.8 911.5M490.5 908.6L498.8 911.5L490.8 915.1"/>
<path stroke-width="1.7" d="M554 918L587.2 933M580.9 926.4L587.2 933L578.1 932.6"/>
<path stroke-width="1.7" d="M644 915L676.8 907.5M668.5 906.2L676.8 907.5L669.9 912.3"/>
<path stroke-width="1.7" d="M734 920.8L772.2 914.2M762.8 912.2L772.2 914.2L764 919.3"/>
<path stroke-width="1.7" d="M824 918.3L861.7 909.3M852.1 907.9L861.7 909.3L853.8 914.9"/>
<path stroke-width="1.0" d="M914 908.2L945.8 899.5M937.6 898.6L945.8 899.5L939.2 904.5"/>
<path stroke-width="1.7" d="M1004 916.2L1027 848.8M1015.3 862.2L1027 848.8L1028 866.6"/>
<path stroke-width="1.0" d="M1094 921.2L1110 940M1108 934.2L1110 940L1104.5 937.2"/>
<path stroke-width="1.7" d="M283.8 992L298.8 992M295.3 990.6L298.8 992L295.3 993.4"/>
<path stroke-width="1.7" d="M373.8 996.2L386.2 996.2M383.4 995.1L386.2 996.2L383.4 997.4"/>
<path stroke-width="1.7" d="M463.8 991.2L476.2 992M473.4 990.7L476.2 992L473.3 993"/>
<path stroke-width="1.7" d="M643.5 995L653.5 991.2M650.5 991.2L653.5 991.2L651.3 993.3"/>
<path stroke-width="1.7" d="M1003.2 996.2L1006.5 992M1003.9 993.5L1006.5 992L1005.7 994.9"/>
</g>
<g stroke="#000" stroke-width="1" fill="none" shape-rendering="crispEdges">
<rect x="194.5" y="179.5" width="960" height="876"/>
<path d="M194.5 179.5v12M194.5 1055.5v-12M212.5 179.5v5.5M212.5 1055.5v-5.5M230.5 179.5v5.5M230.5 1055.5v-5.5M248.5 179.5v5.5M248.5 1055.5v-5.5M266.5 179.5v5.5M266.5 1055.5v-5.5M284.5 179.5v5.5M284.5 1055.5v-5.5M302.5 179.5v5.5M302.5 1055.5v-5.5M320.5 179.5v5.5M320.5 1055.5v-5.5M338.5 179.5v5.5M338.5 1055.5v-5.5M355.5 179.5v5.5M355.5 1055.5v-5.5M373.5 179.5v12M373.5 1055.5v-12M391.5 179.5v5.5M391.5 1055.5v-5.5M409.5 179.5v5.5M409.5 1055.5v-5.5M427.5 179.5v5.5M427.5 1055.5v-5.5M445.5 179.5v5.5M445.5 1055.5v-5.5M463.5 179.5v5.5M463.5 1055.5v-5.5M481.5 179.5v5.5M481.5 1055.5v-5.5M499.5 179.5v5.5M499.5 1055.5v-5.5M517.5 179.5v5.5M517.5 1055.5v-5.5M535.5 179.5v5.5M535.5 1055.5v-5.5M553.5 179.5v12M553.5 1055.5v-12M570.5 179.5v5.5M570.5 1055.5v-5.5M588.5 179.5v5.5M588.5 1055.5v-5.5M606.5 179.5v5.5M606.5 1055.5v-5.5M624.5 179.5v5.5M624.5 1055.5v-5.5M642.5 179.5v5.5M642.5 1055.5v-5.5M660.5 179.5v5.5M660.5 1055.5v-5.5M678.5 179.5v5.5M678.5 1055.5v-5.5M696.5 179.5v5.5M696.5 1055.5v-5.5M714.5 179.5v5.5M714.5 1055.5v-5.5M732.5 179.5v12M732.5 1055.5v-12M750.5 179.5v5.5M750.5 1055.5v-5.5M768.5 179.5v5.5M768.5 1055.5v-5.5M785.5 179.5v5.5M785.5 1055.5v-5.5M803.5 179.5v5.5M803.5 1055.5v-5.5M821.5 179.5v5.5M821.5 1055.5v-5.5M839.5 179.5v5.5M839.5 1055.5v-5.5M857.5 179.5v5.5M857.5 1055.5v-5.5M875.5 179.5v5.5M875.5 1055.5v-5.5M893.5 179.5v5.5M893.5 1055.5v-5.5M911.5 179.5v12M911.5 1055.5v-12M929.5 179.5v5.5M929.5 1055.5v-5.5M947.5 179.5v5.5M947.5 1055.5v-5.5M965.5 179.5v5.5M965.5 1055.5v-5.5M983.5 179.5v5.5M983.5 1055.5v-5.5M1000.5 179.5v5.5M1000.5 1055.5v-5.5M1018.5 179.5v5.5M1018.5 1055.5v-5.5M1036.5 179.5v5.5M1036.5 1055.5v-5.5M1054.5 179.5v5.5M1054.5 1055.5v-5.5M1072.5 179.5v5.5M1072.5 1055.5v-5.5M1090.5 179.5v12M1090.5 1055.5v-12M1108.5 179.5v5.5M1108.5 1055.5v-5.5M1126.5 179.5v5.5M1126.5 1055.5v-5.5M1144.5 179.5v5.5M1144.5 1055.5v-5.5M194.5 191.5h6.5M1154.5 191.5h-6.5M194.5 203.5h6.5M1154.5 203.5h-6.5M194.5 215.5h6.5M1154.5 215.5h-6.5M194.5 227.5h6.5M1154.5 227.5h-6.5M194.5 239.5h6.5M1154.5 239.5h-6.5M194.5 250.5h6.5M1154.5 250.5h-6.5M194.5 262.5h6.5M1154.5 262.5h-6.5M194.5 274.5h6.5M1154.5 274.5h-6.5M194.5 286.5h6.5M1154.5 286.5h-6.5M194.5 298.5h12.5M1154.5 298.5h-12.5M194.5 310.5h6.5M1154.5 310.5h-6.5M194.5 321.5h6.5M1154.5 321.5h-6.5M194.5 333.5h6.5M1154.5 333.5h-6.5M194.5 345.5h6.5M1154.5 345.5h-6.5M194.5 357.5h6.5M1154.5 357.5h-6.5M194.5 369.5h6.5M1154.5 369.5h-6.5M194.5 381.5h6.5M1154.5 381.5h-6.5M194.5 392.5h6.5M1154.5 392.5h-6.5M194.5 404.5h6.5M1154.5 404.5h-6.5M194.5 416.5h12.5M1154.5 416.5h-12.5M194.5 428.5h6.5M1154.5 428.5h-6.5M194.5 440.5h6.5M1154.5 440.5h-6.5M194.5 451.5h6.5M1154.5 451.5h-6.5M194.5 463.5h6.5M1154.5 463.5h-6.5M194.5 475.5h6.5M1154.5 475.5h-6.5M194.5 487.5h6.5M1154.5 487.5h-6.5M194.5 499.5h6.5M1154.5 499.5h-6.5M194.5 511.5h6.5M1154.5 511.5h-6.5M194.5 522.5h6.5M1154.5 522.5h-6.5M194.5 534.5h12.5M1154.5 534.5h-12.5M194.5 546.5h6.5M1154.5 546.5h-6.5M194.5 558.5h6.5M1154.5 558.5h-6.5M194.5 570.5h6.5M1154.5 570.5h-6.5M194.5 582.5h6.5M1154.5 582.5h-6.5M194.5 593.5h6.5M1154.5 593.5h-6.5M194.5 605.5h6.5M1154.5 605.5h-6.5M194.5 617.5h6.5M1154.5 617.5h-6.5M194.5 629.5h6.5M1154.5 629.5h-6.5M194.5 641.5h6.5M1154.5 641.5h-6.5M194.5 652.5h12.5M1154.5 652.5h-12.5M194.5 664.5h6.5M1154.5 664.5h-6.5M194.5 676.5h6.5M1154.5 676.5h-6.5M194.5 688.5h6.5M1154.5 688.5h-6.5M194.5 700.5h6.5M1154.5 700.5h-6.5M194.5 712.5h6.5M1154.5 712.5h-6.5M194.5 723.5h6.5M1154.5 723.5h-6.5M194.5 735.5h6.5M1154.5 735.5h-6.5M194.5 747.5h6.5M1154.5 747.5h-6.5M194.5 759.5h6.5M1154.5 759.5h-6.5M194.5 771.5h12.5M1154.5 771.5h-12.5M194.5 783.5h6.5M1154.5 783.5h-6.5M194.5 794.5h6.5M1154.5 794.5h-6.5M194.5 806.5h6.5M1154.5 806.5h-6.5M194.5 818.5h6.5M1154.5 818.5h-6.5M194.5 830.5h6.5M1154.5 830.5h-6.5M194.5 842.5h6.5M1154.5 842.5h-6.5M194.5 853.5h6.5M1154.5 853.5h-6.5M194.5 865.5h6.5M1154.5 865.5h-6.5M194.5 877.5h6.5M1154.5 877.5h-6.5M194.5 889.5h12.5M1154.5 889.5h-12.5M194.5 901.5h6.5M1154.5 901.5h-6.5M194.5 913.5h6.5M1154.5 913.5h-6.5M194.5 924.5h6.5M1154.5 924.5h-6.5M194.5 936.5h6.5M1154.5 936.5h-6.5M194.5 948.5h6.5M1154.5 948.5h-6.5M194.5 960.5h6.5M1154.5 960.5h-6.5M194.5 972.5h6.5M1154.5 972.5h-6.5M194.5 984.5h6.5M1154.5 984.5h-6.5M194.5 995.5h6.5M1154.5 995.5h-6.5M194.5 1007.5h12.5M1154.5 1007.5h-12.5M194.5 1019.5h6.5M1154.5 1019.5h-6.5M194.5 1031.5h6.5M1154.5 1031.5h-6.5M194.5 1043.5h6.5M1154.5 1043.5h-6.5"/>
</g>
<g shape-rendering="crispEdges">
<rect x="1190.5" y="179.5" width="19" height="174.5" fill="#008000"/>
<rect x="1190.5" y="354" width="19" height="175.5" fill="#00c000"/>
<rect x="1190.5" y="529.5" width="19" height="175.5" fill="#40ff40"/>
<rect x="1190.5" y="705" width="19" height="175" fill="#c0ffc0"/>
<rect x="1190.5" y="880" width="19" height="175.5" fill="#ffffff"/>
<path d="M1190.5 354.5h19M1190.5 529.5h19M1190.5 705.5h19M1190.5 880.5h19" stroke="#000" stroke-width="1"/>
<rect x="1190.5" y="179.5" width="19" height="876" fill="none" stroke="#000" stroke-width="1"/>
</g>
<text x="81" y="25.5" font-size="26" textLength="376.5" lengthAdjust="spacingAndGlyphs" xml:space="preserve">Init: 00 UTC Thu 03 Dec 09</text>
<text x="1069" y="26" font-size="26" textLength="62" lengthAdjust="spacingAndGlyphs" xml:space="preserve">Fcst:</text>
<text x="1183" y="26" font-size="26" textLength="14.5" lengthAdjust="spacingAndGlyphs" xml:space="preserve">9</text>
<text x="1211" y="26" font-size="26" textLength="18" lengthAdjust="spacingAndGlyphs" xml:space="preserve">h</text>
<text x="531.5" y="51" font-size="26" textLength="733.5" lengthAdjust="spacingAndGlyphs" xml:space="preserve">Valid: 09 UTC Thu 03 Dec 09 (04 EST Thu 03 Dec 09)</text>
<text x="87.5" y="76.5" font-size="23.5" textLength="273.5" lengthAdjust="spacingAndGlyphs" xml:space="preserve">Relative Humidity (%)</text>
<text x="87.5" y="101.5" font-size="23.5" style="fill:#4c4c4c;" textLength="334" lengthAdjust="spacingAndGlyphs" xml:space="preserve">Potential Temperature (K)</text>
<text x="87.5" y="125.5" font-size="23.5" textLength="243" lengthAdjust="spacingAndGlyphs" xml:space="preserve">Circulation Vectors</text>
<text x="173.8" y="186.2" font-size="16" textLength="33" lengthAdjust="spacingAndGlyphs" text-anchor="end" class="s" style="stroke:#fdfdfd;stroke-width:0.3px" xml:space="preserve">300</text>
<text x="173.8" y="304.2" font-size="16" textLength="33" lengthAdjust="spacingAndGlyphs" text-anchor="end" class="s" style="stroke:#fdfdfd;stroke-width:0.3px" xml:space="preserve">400</text>
<text x="173.8" y="422.2" font-size="16" textLength="33" lengthAdjust="spacingAndGlyphs" text-anchor="end" class="s" style="stroke:#fdfdfd;stroke-width:0.3px" xml:space="preserve">500</text>
<text x="173.8" y="540.2" font-size="16" textLength="33" lengthAdjust="spacingAndGlyphs" text-anchor="end" class="s" style="stroke:#fdfdfd;stroke-width:0.3px" xml:space="preserve">600</text>
<text x="173.8" y="658.2" font-size="16" textLength="33" lengthAdjust="spacingAndGlyphs" text-anchor="end" class="s" style="stroke:#fdfdfd;stroke-width:0.3px" xml:space="preserve">700</text>
<text x="173.8" y="777.2" font-size="16" textLength="33" lengthAdjust="spacingAndGlyphs" text-anchor="end" class="s" style="stroke:#fdfdfd;stroke-width:0.3px" xml:space="preserve">800</text>
<text x="173.8" y="895.2" font-size="16" textLength="33" lengthAdjust="spacingAndGlyphs" text-anchor="end" class="s" style="stroke:#fdfdfd;stroke-width:0.3px" xml:space="preserve">900</text>
<text x="173.8" y="1013.2" font-size="16" textLength="44" lengthAdjust="spacingAndGlyphs" text-anchor="end" class="s" style="stroke:#fdfdfd;stroke-width:0.3px" xml:space="preserve">1000</text>
<text x="194" y="1079.5" font-size="15" class="s" style="stroke:#fdfdfd;stroke-width:0.3px" xml:space="preserve">0</text>
<text x="374" y="1079.5" font-size="15" textLength="32" lengthAdjust="spacingAndGlyphs" text-anchor="middle" class="s" style="stroke:#fdfdfd;stroke-width:0.3px" xml:space="preserve">100</text>
<text x="554" y="1079.5" font-size="15" textLength="32" lengthAdjust="spacingAndGlyphs" text-anchor="middle" class="s" style="stroke:#fdfdfd;stroke-width:0.3px" xml:space="preserve">200</text>
<text x="733" y="1079.5" font-size="15" textLength="32" lengthAdjust="spacingAndGlyphs" text-anchor="middle" class="s" style="stroke:#fdfdfd;stroke-width:0.3px" xml:space="preserve">300</text>
<text x="912" y="1079.5" font-size="15" textLength="32" lengthAdjust="spacingAndGlyphs" text-anchor="middle" class="s" style="stroke:#fdfdfd;stroke-width:0.3px" xml:space="preserve">400</text>
<text x="1091" y="1079.5" font-size="15" textLength="32" lengthAdjust="spacingAndGlyphs" text-anchor="middle" class="s" style="stroke:#fdfdfd;stroke-width:0.3px" xml:space="preserve">500</text>
<text x="193.7" y="1105.5" font-size="23.6" textLength="30.8" lengthAdjust="spacingAndGlyphs" xml:space="preserve">SW</text>
<text x="1139.6" y="1105.5" font-size="23.6" textLength="29.2" lengthAdjust="spacingAndGlyphs" xml:space="preserve">NE</text>
<text x="592" y="1105.5" font-size="23.5" textLength="165" lengthAdjust="spacingAndGlyphs" xml:space="preserve">Distance (km)</text>
<text transform="translate(134.5,705) rotate(-90)" font-size="23.5" textLength="176" lengthAdjust="spacingAndGlyphs">Pressure (hPa)</text>
<text x="1225" y="187.5" font-size="22" textLength="15" lengthAdjust="spacingAndGlyphs" class="s" style="stroke:#fdfdfd;stroke-width:0.15px" xml:space="preserve">%</text>
<text x="1225.5" y="362" font-size="21.5" textLength="40" lengthAdjust="spacingAndGlyphs" class="s" style="stroke:#fdfdfd;stroke-width:0.4px" xml:space="preserve">100</text>
<text x="1225.5" y="537.5" font-size="21.5" textLength="26.5" lengthAdjust="spacingAndGlyphs" class="s" style="stroke:#fdfdfd;stroke-width:0.4px" xml:space="preserve">90</text>
<text x="1225.5" y="713" font-size="21.5" textLength="26.5" lengthAdjust="spacingAndGlyphs" class="s" style="stroke:#fdfdfd;stroke-width:0.4px" xml:space="preserve">80</text>
<text x="1225.5" y="888" font-size="21.5" textLength="26.5" lengthAdjust="spacingAndGlyphs" class="s" style="stroke:#fdfdfd;stroke-width:0.4px" xml:space="preserve">70</text>
<text x="339.5" y="1172" font-size="16.5" style="stroke-width:0.15px;" textLength="160" lengthAdjust="spacingAndGlyphs" xml:space="preserve">MAXIMUM VECTOR:</text>
<text x="517.5" y="1172" font-size="16.5" style="stroke-width:0.15px;" textLength="34.5" lengthAdjust="spacingAndGlyphs" xml:space="preserve">58.7</text>
<text x="564" y="1172" font-size="16.5" style="stroke-width:0.15px;" textLength="18" lengthAdjust="spacingAndGlyphs" xml:space="preserve">m</text>
<text x="591" y="1172" font-size="16.5" style="stroke-width:0.15px;" textLength="8" lengthAdjust="spacingAndGlyphs" xml:space="preserve">s</text>
<text x="600" y="1165" font-size="11" style="stroke-width:0.15px;" textLength="15.5" lengthAdjust="spacingAndGlyphs" xml:space="preserve">−1</text>
<text x="623.5" y="1172" font-size="16.5" style="stroke-width:0.15px;" textLength="66.5" lengthAdjust="spacingAndGlyphs" xml:space="preserve">(HORIZ)</text>
<text x="760" y="1172" font-size="16.5" style="stroke-width:0.15px;" textLength="44.5" lengthAdjust="spacingAndGlyphs" xml:space="preserve">103.1</text>
<text x="816" y="1172" font-size="16.5" style="stroke-width:0.15px;" textLength="33.5" lengthAdjust="spacingAndGlyphs" xml:space="preserve">dPa</text>
<text x="858" y="1172" font-size="16.5" style="stroke-width:0.15px;" textLength="8" lengthAdjust="spacingAndGlyphs" xml:space="preserve">s</text>
<text x="867" y="1165" font-size="11" style="stroke-width:0.15px;" textLength="15" lengthAdjust="spacingAndGlyphs" xml:space="preserve">−1</text>
<text x="893" y="1172" font-size="16.5" style="stroke-width:0.15px;" textLength="54" lengthAdjust="spacingAndGlyphs" xml:space="preserve">(VERT)</text>
<text x="283" y="1190" font-size="15.5" style="fill:#333333;stroke-width:0.25px;" textLength="95.5" lengthAdjust="spacingAndGlyphs" xml:space="preserve">CONTOURS:</text>
<text x="398" y="1190" font-size="15.5" style="fill:#333333;stroke-width:0.25px;" textLength="77" lengthAdjust="spacingAndGlyphs" xml:space="preserve">UNITS=K</text>
<text x="493" y="1190" font-size="15.5" style="fill:#333333;stroke-width:0.25px;" textLength="47" lengthAdjust="spacingAndGlyphs" xml:space="preserve">LOW=</text>
<text x="557" y="1190" font-size="15.5" style="fill:#333333;stroke-width:0.25px;" textLength="59.5" lengthAdjust="spacingAndGlyphs" xml:space="preserve">288.00</text>
<text x="668.5" y="1190" font-size="15.5" style="fill:#333333;stroke-width:0.25px;" textLength="56" lengthAdjust="spacingAndGlyphs" xml:space="preserve">HIGH=</text>
<text x="742" y="1190" font-size="15.5" style="fill:#333333;stroke-width:0.25px;" textLength="57" lengthAdjust="spacingAndGlyphs" xml:space="preserve">400.00</text>
<text x="850.5" y="1190" font-size="15.5" style="fill:#333333;stroke-width:0.25px;" textLength="95.5" lengthAdjust="spacingAndGlyphs" xml:space="preserve">INTERVAL=</text>
<text x="973" y="1190" font-size="15.5" style="fill:#333333;stroke-width:0.25px;" textLength="57" lengthAdjust="spacingAndGlyphs" xml:space="preserve">4.0000</text>
<path d="M1234 1087V1166H1165.5M1224.5 1103.7L1234 1086.5L1242.5 1103.7M1179.8 1158.7L1165 1166L1179.8 1174.2" fill="none" stroke="#000" stroke-width="1.9" stroke-linejoin="miter"/>
</svg></body></html>
